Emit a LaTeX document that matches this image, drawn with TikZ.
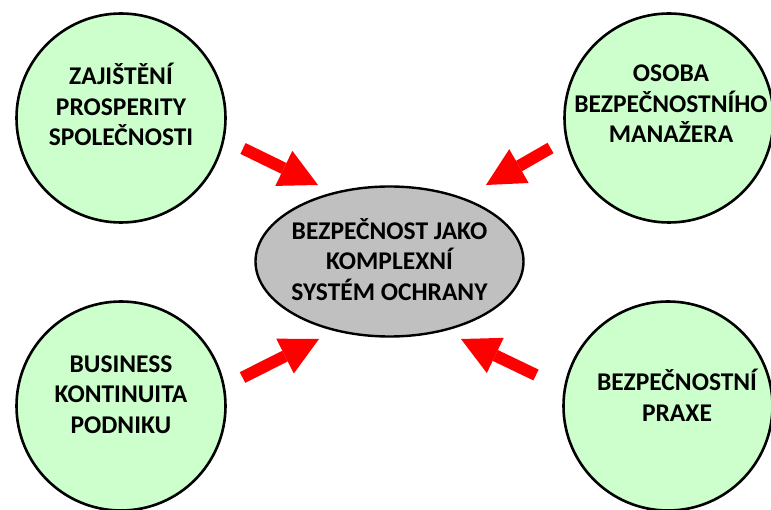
\documentclass[tikz,border=0pt]{standalone}
\usepackage{fontspec}
\setmainfont{Carlito}
\usetikzlibrary{shapes.geometric,arrows.meta}

\definecolor{topicgreen}{HTML}{CCFFCC}
\definecolor{coregray}{HTML}{C0C0C0}
\definecolor{pushred}{HTML}{FF0000}

\begin{document}
\begin{tikzpicture}[x=1pt,y=-1pt,
  topic/.style={circle,draw=black,line width=2.6pt,fill=topicgreen,
    minimum size=209pt,inner sep=0pt},
  core/.style={ellipse,draw=black,line width=2.4pt,fill=coregray,
    minimum width=268pt,minimum height=150pt,inner sep=0pt},
  caption/.style={align=center,inner sep=0pt,
    font=\fontsize{25.5}{30.5}\selectfont\bfseries},
  push/.style={draw=pushred,line width=12pt,
    -{Triangle[length=38pt,width=39pt,line width=0pt]}}]

\useasboundingbox (0,0) rectangle (771,510);

% four surrounding topics
\node[topic] (tl) at (121,118) {};
\node[topic] (tr) at (669,118) {};
\node[topic] (bl) at (121,406) {};
\node[topic] (br) at (668,406) {};

% central theme
\node[core] (core) at (389.5,261.5) {};

% captions
\node[caption] (tltext) at (121,104.5) {ZAJIŠTĚNÍ\\PROSPERITY\\SPOLEČNOSTI};
\node[caption] (trtext) at (671,104) {OSOBA\\BEZPEČNOSTNÍHO\\MANAŽERA};
\node[caption] (bltext) at (121,394.5) {BUSINESS\\KONTINUITA\\PODNIKU};
\node[caption] (brtext) at (677,395.5) {BEZPEČNOSTNÍ\\PRAXE};
\node[caption] (coretext) at (389.5,259.5) {BEZPEČNOST JAKO\\KOMPLEXNÍ\\SYSTÉM OCHRANY};

% arrow ends
\coordinate (a1s) at (243,148.5);
\coordinate (a1e) at (318,185);
\coordinate (a2s) at (550.5,148);
\coordinate (a2e) at (486,185);
\coordinate (a3s) at (242.5,377.5);
\coordinate (a3e) at (319,339);
\coordinate (a4s) at (536,375);
\coordinate (a4e) at (461,339);

% block arrows pointing at the central theme
\draw[push] (a1s) -- (a1e);
\draw[push] (a2s) -- (a2e);
\draw[push] (a3s) -- (a3e);
\draw[push] (a4s) -- (a4e);
\end{tikzpicture}
\end{document}
